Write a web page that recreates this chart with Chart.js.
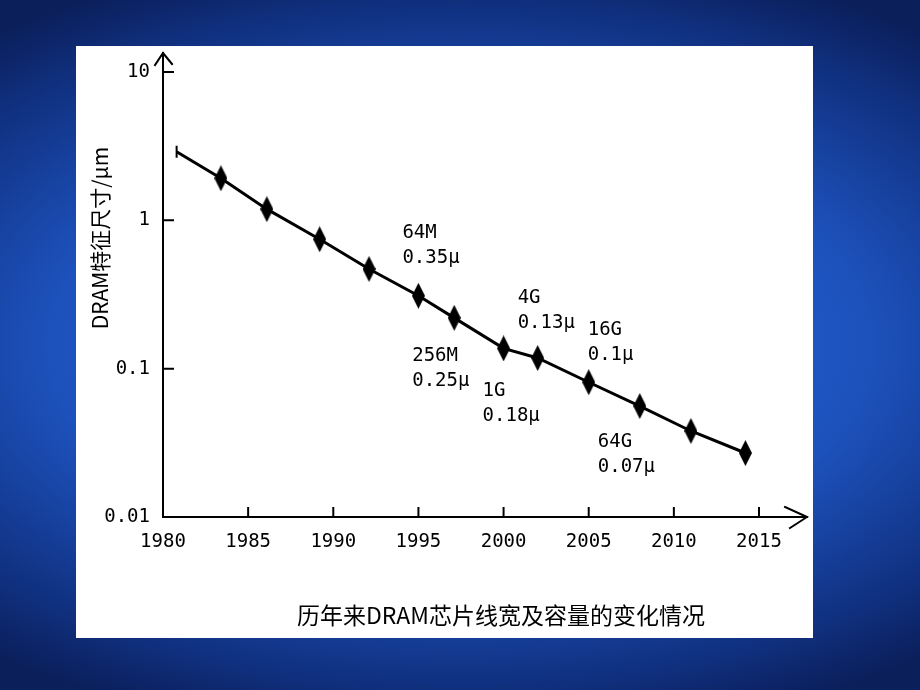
<!DOCTYPE html>
<html>
<head>
<meta charset="utf-8">
<script src="https://cdn.jsdelivr.net/npm/chart.js@4.4.0/dist/chart.umd.min.js"></script>
<style>
  html, body { margin:0; padding:0; width:920px; height:690px; overflow:hidden; }
  body { background: radial-gradient(ellipse 80% 58% at 50% 50%, #2a6ad6 0%, #1d52bd 55%, #10307f 85%, #0b1f5b 100%); }
  #panel { position:absolute; left:76px; top:46px; width:737px; height:592px; background:#fff; }
</style>
</head>
<body>
<div id="panel"><canvas id="chart" width="737" height="592"></canvas></div>
<script>
// DRAM feature size by year (log scale)
const years       = [1980.8, 1983.4, 1986.1, 1989.2, 1992.1, 1995.0, 1997.1, 2000.0, 2002.0, 2005.0, 2008.0, 2011.0, 2014.2];
const featureSize = [2.9, 1.92, 1.19, 0.745, 0.47, 0.31, 0.22, 0.137, 0.118, 0.081, 0.056, 0.038, 0.027];
const xTicks = [1980, 1985, 1990, 1995, 2000, 2005, 2010, 2015];
const yTicks = [0.01, 0.1, 1, 10];

// capacity notes, each tied to a point of the series
const noteLabels = [['64M','0.35μ'], ['256M','0.25μ'], ['1G','0.18μ'], ['4G','0.13μ'], ['16G','0.1μ'], ['64G','0.07μ']];
const notePoint  = [5, 6, 7, 8, 9, 10];

const yTitle  = 'DRAM特征尺寸/μm';
const caption = '历年来DRAM芯片线宽及容量的变化情况';

const monoFont = {family:'"DejaVu Sans Mono", monospace', size:19};
const cjkFont = '"Noto Sans CJK SC", sans-serif';

// tall diamond marker
const diamond = document.createElement('canvas');
diamond.width = 13; diamond.height = 26;
(function(){
  const g = diamond.getContext('2d');
  g.fillStyle = '#000';
  g.beginPath(); g.moveTo(6.5,0); g.lineTo(13,13); g.lineTo(6.5,26); g.lineTo(0,13); g.closePath(); g.fill();
})();

const axesPlugin = {
  id:'axesArrows',
  afterDraw(chart){
    const {ctx, chartArea:a, scales:{x, y}} = chart;
    ctx.save();
    ctx.strokeStyle = '#000'; ctx.lineWidth = 2; ctx.lineCap = 'square';
    ctx.beginPath();
    ctx.moveTo(a.left, a.bottom); ctx.lineTo(a.left, a.top - 19);
    ctx.moveTo(a.left - 8, a.top - 7); ctx.lineTo(a.left, a.top - 19); ctx.lineTo(a.left + 9, a.top - 8);
    ctx.moveTo(a.left, a.bottom); ctx.lineTo(a.right + 48, a.bottom);
    ctx.moveTo(a.right + 26, a.bottom - 10); ctx.lineTo(a.right + 48, a.bottom); ctx.lineTo(a.right + 31, a.bottom + 11);
    xTicks.slice(1).forEach(v => { const px = x.getPixelForValue(v); ctx.moveTo(px, a.bottom); ctx.lineTo(px, a.bottom - 9); });
    yTicks.slice(1).forEach(v => { const py = y.getPixelForValue(v); ctx.moveTo(a.left, py); ctx.lineTo(a.left + 10, py); });
    ctx.stroke();

    // notes
    const pts = chart.getDatasetMeta(0).data;
    const offsets = [[-16,-63], [-42,38], [-21,43], [-20,-60], [-1,-52], [-42,36]];
    ctx.fillStyle = '#000';
    ctx.font = '19px "DejaVu Sans Mono", monospace';
    ctx.textAlign = 'left'; ctx.textBaseline = 'middle';
    noteLabels.forEach((lines, i) => {
      const p = pts[notePoint[i]];
      const [dx, dy] = offsets[i];
      lines.forEach((t, j) => ctx.fillText(t, p.x + dx, p.y + dy + j * 25));
    });

    // y-axis title, sitting high on the axis
    ctx.save();
    ctx.translate(24, a.top + 166);
    ctx.rotate(-Math.PI / 2);
    ctx.textAlign = 'center';
    ctx.font = '21px ' + cjkFont;
    ctx.fillText(yTitle, 0, 0);
    ctx.restore();

    // caption under the plot
    ctx.textAlign = 'center';
    ctx.font = '23px ' + cjkFont;
    ctx.fillText(caption, (a.left + a.right) / 2 + 40, chart.height - 23);
    ctx.restore();
  }
};

new Chart(document.getElementById('chart'), {
  type:'line',
  data:{
    datasets:[{
      data: years.map((v, i) => ({x:v, y:featureSize[i]})),
      borderColor:'#000', borderWidth:3, tension:0,
      pointStyle: years.map((_, i) => i === 0 ? 'line' : diamond),
      pointRotation: years.map((_, i) => i === 0 ? 90 : 0),
      pointRadius:6,
      pointBorderColor:'#000', pointBorderWidth:2, pointBackgroundColor:'#000'
    }]
  },
  options:{
    responsive:false, animation:false,
    layout:{padding:{left:0, top:26, right:54, bottom:36}},
    plugins:{legend:{display:false}, tooltip:{enabled:false}},
    scales:{
      x:{
        type:'linear', min:1980, max:2015,
        afterBuildTicks: s => { s.ticks = xTicks.map(v => ({value:v})); },
        afterFit: s => { s.height = 85; },
        grid:{display:false, drawTicks:false}, border:{display:false},
        ticks:{color:'#000', font:monoFont, padding:14, maxRotation:0, callback: v => String(v)}
      },
      y:{
        type:'logarithmic', min:0.01, max:10,
        afterBuildTicks: s => { s.ticks = yTicks.map(v => ({value:v})); },
        afterFit: s => { s.width = 87; },
        grid:{display:false, drawTicks:false}, border:{display:false},
        ticks:{color:'#000', font:monoFont, padding:13, callback: v => String(v)}
      }
    }
  },
  plugins:[axesPlugin]
});
</script>
</body>
</html>
